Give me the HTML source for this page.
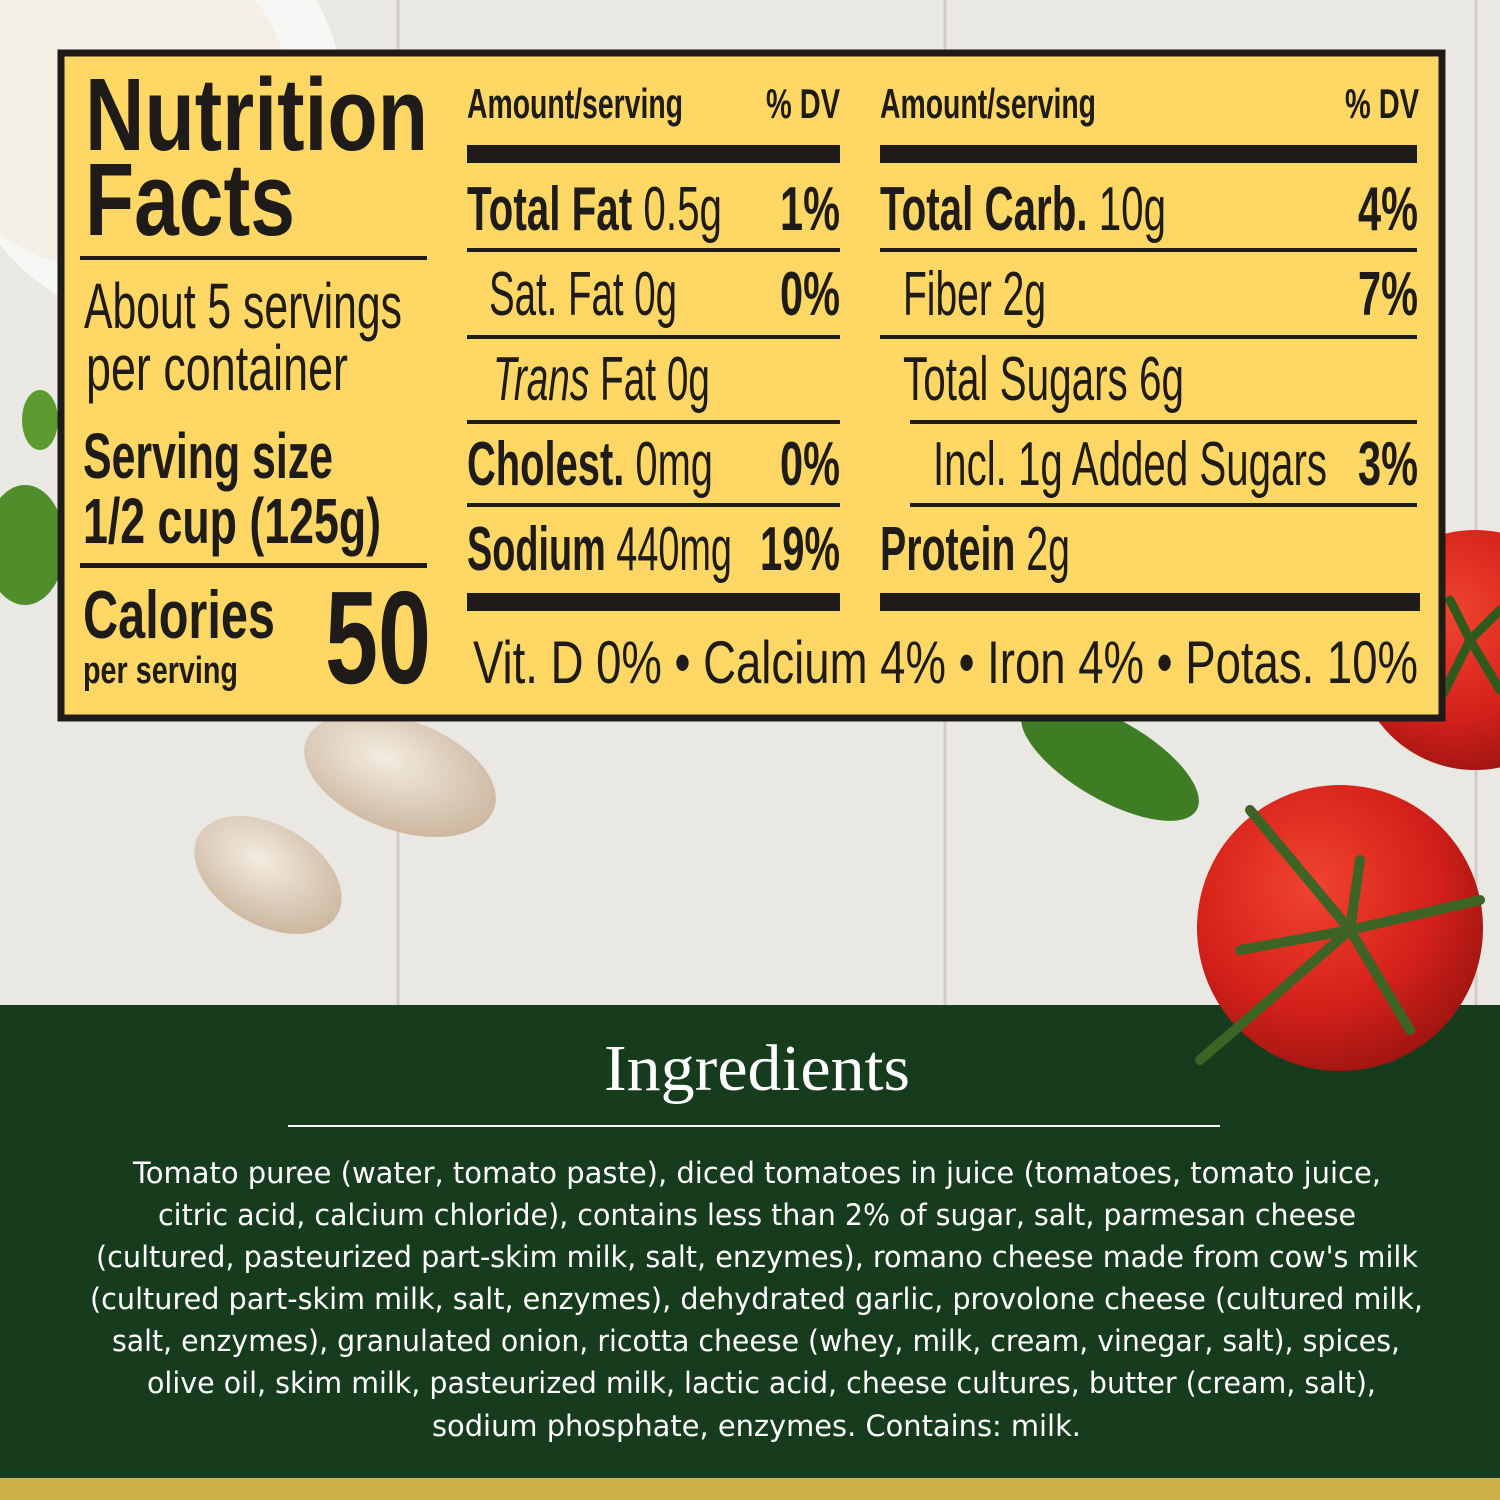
<!DOCTYPE html>
<html><head><meta charset="utf-8"><style>html,body{margin:0;padding:0;width:1500px;height:1500px;overflow:hidden;background:#e8e7e0}</style></head><body>
<svg width="1500" height="1500" viewBox="0 0 1500 1500" xmlns="http://www.w3.org/2000/svg">
<defs>
<radialGradient id="tom" cx="0.4" cy="0.35" r="0.7"><stop offset="0" stop-color="#f0442f"/><stop offset="0.6" stop-color="#d6211a"/><stop offset="1" stop-color="#9c1410"/></radialGradient>
<radialGradient id="gar" cx="0.4" cy="0.4" r="0.7"><stop offset="0" stop-color="#f3ece0"/><stop offset="1" stop-color="#c9b29a"/></radialGradient>
</defs>
<rect x="0" y="0" width="1500" height="1005" fill="#e9e8e2"/>
<g stroke="#cfcdc4" stroke-width="3">
<line x1="398" y1="0" x2="398" y2="1005"/><line x1="945" y1="0" x2="945" y2="1005"/><line x1="1476" y1="0" x2="1476" y2="1005"/>
</g>
<!-- cheese plate -->
<ellipse cx="150" cy="110" rx="195" ry="210" fill="#f7f7f5"/>
<ellipse cx="110" cy="100" rx="180" ry="170" fill="#f4f0e6"/>
<!-- basil left -->
<ellipse cx="25" cy="545" rx="40" ry="60" fill="#4f8e2a"/>
<ellipse cx="40" cy="420" rx="18" ry="30" fill="#5c9a30"/>
<!-- garlic -->
<ellipse cx="400" cy="775" rx="100" ry="55" fill="url(#gar)" transform="rotate(20 400 775)"/>
<ellipse cx="268" cy="875" rx="80" ry="50" fill="url(#gar)" transform="rotate(30 268 875)"/>
<!-- basil right -->
<ellipse cx="1110" cy="760" rx="100" ry="40" fill="#3f7d24" transform="rotate(30 1110 760)"/>
<!-- tomato behind box -->
<circle cx="1475" cy="650" r="120" fill="url(#tom)"/>
<g stroke="#2f5a1c" stroke-width="9" stroke-linecap="round"><path d="M1470 640 L1450 600"/><path d="M1470 640 L1500 610"/><path d="M1470 640 L1440 700"/><path d="M1470 640 L1500 690"/></g>
<!-- box -->
<rect x="61" y="53" width="1381" height="665" fill="#fed765" stroke="#1e1b18" stroke-width="7"/>
<g fill="#1e1b18" font-family="Liberation Sans, sans-serif">
<text x="85" y="150" font-size="103" font-weight="bold" textLength="343" lengthAdjust="spacingAndGlyphs">Nutrition</text>
<text x="85" y="235" font-size="103" font-weight="bold" textLength="210" lengthAdjust="spacingAndGlyphs">Facts</text>
<rect x="80" y="256" width="347" height="4"/>
<text x="84" y="328" font-size="64" textLength="318" lengthAdjust="spacingAndGlyphs">About 5 servings</text>
<text x="86" y="390" font-size="64" textLength="262" lengthAdjust="spacingAndGlyphs">per container</text>
<text x="83" y="478" font-size="64" font-weight="bold" textLength="250" lengthAdjust="spacingAndGlyphs">Serving size</text>
<text x="83" y="543" font-size="64" font-weight="bold" textLength="298" lengthAdjust="spacingAndGlyphs">1/2 cup (125g)</text>
<rect x="80" y="563" width="347" height="5"/>
<text x="83" y="638" font-size="68" font-weight="bold" textLength="192" lengthAdjust="spacingAndGlyphs">Calories</text>
<text x="83" y="683" font-size="38" font-weight="bold" textLength="155" lengthAdjust="spacingAndGlyphs">per serving</text>
<text x="325" y="683" font-size="132" font-weight="bold" textLength="106" lengthAdjust="spacingAndGlyphs">50</text>

<text x="467" y="118" font-size="42" font-weight="bold" textLength="216" lengthAdjust="spacingAndGlyphs">Amount/serving</text>
<text x="766" y="118" font-size="42" font-weight="bold" textLength="74" lengthAdjust="spacingAndGlyphs">% DV</text>
<text x="880" y="118" font-size="42" font-weight="bold" textLength="216" lengthAdjust="spacingAndGlyphs">Amount/serving</text>
<text x="1345" y="118" font-size="42" font-weight="bold" textLength="74" lengthAdjust="spacingAndGlyphs">% DV</text>
<rect x="467" y="145" width="373" height="18"/><rect x="880" y="145" width="537" height="18"/>
<rect x="467" y="248" width="373" height="4"/><rect x="880" y="248" width="537" height="4"/>
<rect x="467" y="335" width="373" height="4"/><rect x="880" y="335" width="537" height="4"/>
<rect x="467" y="420" width="373" height="4"/><rect x="910" y="420" width="507" height="4"/>
<rect x="467" y="503" width="373" height="4"/><rect x="910" y="503" width="507" height="4"/>
<rect x="467" y="593" width="373" height="18"/><rect x="880" y="593" width="540" height="18"/>

<g font-size="62">
<text x="467" y="230" textLength="255" lengthAdjust="spacingAndGlyphs"><tspan font-weight="bold">Total Fat</tspan> 0.5g</text>
<text x="780" y="230" font-weight="bold" textLength="60" lengthAdjust="spacingAndGlyphs">1%</text>
<text x="489" y="315" textLength="188" lengthAdjust="spacingAndGlyphs">Sat. Fat 0g</text>
<text x="780" y="315" font-weight="bold" textLength="60" lengthAdjust="spacingAndGlyphs">0%</text>
<text x="493" y="400" textLength="217" lengthAdjust="spacingAndGlyphs"><tspan font-style="italic">Trans</tspan> Fat 0g</text>
<text x="467" y="485" textLength="246" lengthAdjust="spacingAndGlyphs"><tspan font-weight="bold">Cholest.</tspan> 0mg</text>
<text x="780" y="485" font-weight="bold" textLength="60" lengthAdjust="spacingAndGlyphs">0%</text>
<text x="467" y="570" textLength="265" lengthAdjust="spacingAndGlyphs"><tspan font-weight="bold">Sodium</tspan> 440mg</text>
<text x="760" y="570" font-weight="bold" textLength="80" lengthAdjust="spacingAndGlyphs">19%</text>

<text x="880" y="230" textLength="286" lengthAdjust="spacingAndGlyphs"><tspan font-weight="bold">Total Carb.</tspan> 10g</text>
<text x="1358" y="230" font-weight="bold" textLength="60" lengthAdjust="spacingAndGlyphs">4%</text>
<text x="903" y="315" textLength="143" lengthAdjust="spacingAndGlyphs">Fiber 2g</text>
<text x="1358" y="315" font-weight="bold" textLength="60" lengthAdjust="spacingAndGlyphs">7%</text>
<text x="903" y="400" textLength="281" lengthAdjust="spacingAndGlyphs">Total Sugars 6g</text>
<text x="933" y="485" textLength="394" lengthAdjust="spacingAndGlyphs">Incl. 1g Added Sugars</text>
<text x="1358" y="485" font-weight="bold" textLength="60" lengthAdjust="spacingAndGlyphs">3%</text>
<text x="880" y="570" textLength="190" lengthAdjust="spacingAndGlyphs"><tspan font-weight="bold">Protein</tspan> 2g</text>
</g>
<text x="473" y="683" font-size="60" textLength="945" lengthAdjust="spacingAndGlyphs">Vit. D 0% • Calcium 4% • Iron 4% • Potas. 10%</text>
</g>
<!-- green band -->
<rect x="0" y="1005" width="1500" height="473" fill="#173c1d"/>
<rect x="0" y="1478" width="1500" height="22" fill="#cdb347"/>
<!-- big tomato -->
<circle cx="1340" cy="928" r="143" fill="url(#tom)"/>
<g stroke="#3d6424" stroke-width="10" stroke-linecap="round" fill="none">
<path d="M1350 930 L1250 810"/><path d="M1350 930 L1480 900"/><path d="M1350 930 L1200 1060"/><path d="M1350 930 L1410 1030"/><path d="M1350 930 L1240 950"/><path d="M1350 930 L1360 860"/>
</g>
<g fill="#ffffff">
<text x="604" y="1090" font-family="Liberation Serif, serif" font-size="66" textLength="306" lengthAdjust="spacingAndGlyphs">Ingredients</text>
<rect x="288" y="1125" width="932" height="2"/>
<g font-family="DejaVu Sans, Liberation Sans, sans-serif" font-size="29">
<text x="133" y="1183" textLength="1248" lengthAdjust="spacingAndGlyphs">Tomato puree (water, tomato paste), diced tomatoes in juice (tomatoes, tomato juice,</text>
<text x="158" y="1225" textLength="1198" lengthAdjust="spacingAndGlyphs">citric acid, calcium chloride), contains less than 2% of sugar, salt, parmesan cheese</text>
<text x="96" y="1267" textLength="1322" lengthAdjust="spacingAndGlyphs">(cultured, pasteurized part-skim milk, salt, enzymes), romano cheese made from cow's milk</text>
<text x="90" y="1309" textLength="1333" lengthAdjust="spacingAndGlyphs">(cultured part-skim milk, salt, enzymes), dehydrated garlic, provolone cheese (cultured milk,</text>
<text x="112" y="1351" textLength="1288" lengthAdjust="spacingAndGlyphs">salt, enzymes), granulated onion, ricotta cheese (whey, milk, cream, vinegar, salt), spices,</text>
<text x="147" y="1393" textLength="1229" lengthAdjust="spacingAndGlyphs">olive oil, skim milk, pasteurized milk, lactic acid, cheese cultures, butter (cream, salt),</text>
<text x="432" y="1436" textLength="649" lengthAdjust="spacingAndGlyphs">sodium phosphate, enzymes. Contains: milk.</text>
</g>
</g>
</svg>
</body></html>
